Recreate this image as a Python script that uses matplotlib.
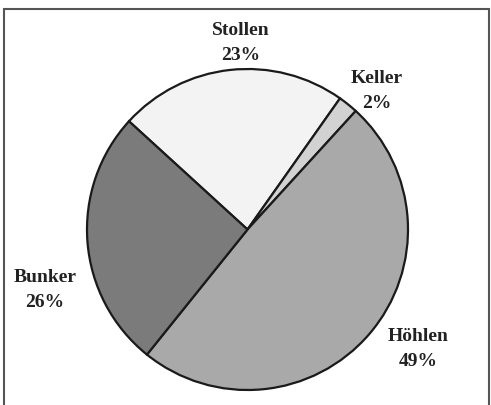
import matplotlib.pyplot as plt
from matplotlib.patches import Rectangle

labels = ["Stollen", "Keller", "Höhlen", "Bunker"]
values = [23, 2, 49, 26]
colors = ["#f3f3f3", "#d2d2d2", "#a9a9a9", "#7b7b7b"]

# label block centres in pixel coords (y measured from the top)
label_pos = [(241, 43), (377, 91), (418, 349), (45, 290)]

H = 405
fig = plt.figure(figsize=(4.91, 4.05), dpi=100)
ax = fig.add_axes([0, 0, 1, 1])

ax.pie(values, colors=colors, startangle=137.6, counterclock=False,
       center=(247.5, H - 229.5), radius=160.5, frame=True,
       wedgeprops=dict(edgecolor="#1a1a1a", linewidth=1.6))

for lab, val, (x, y) in zip(labels, values, label_pos):
    ax.text(x, H - y, f"{lab}\n{val}%", ha="center", va="center",
            fontsize=14, fontweight="bold", family="Liberation Serif",
            color="#222222", linespacing=1.55)

ax.add_patch(Rectangle((4, -20), 485, H - 9 + 20, fill=False,
                       edgecolor="#555555", linewidth=1.5))

ax.set_xlim(0, 491)
ax.set_ylim(0, H)
ax.set_aspect("equal")
ax.axis("off")

fig.savefig("out.png", dpi=100)
